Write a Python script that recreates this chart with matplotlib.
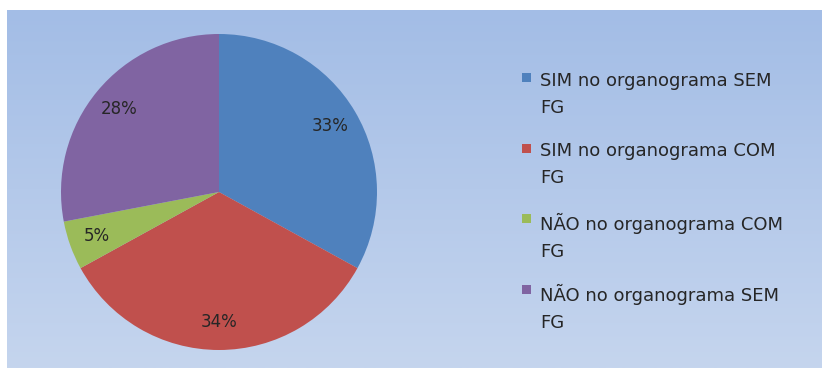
import numpy as np
import matplotlib.pyplot as plt
from matplotlib.colors import LinearSegmentedColormap
from matplotlib.patches import Rectangle

# Distribution of answers
labels = ['SIM no organograma SEM\nFG', 'SIM no organograma COM\nFG',
          'NÃO no organograma COM\nFG', 'NÃO no organograma SEM\nFG']
values = [33, 34, 5, 28]
colors = ['#4F81BD', '#C0504D', '#9BBB59', '#8064A2']

plt.rcParams['font.family'] = ['DejaVu Sans']

W, H = 822, 368
fig = plt.figure(figsize=(W / 100, H / 100), dpi=100)
fig.patch.set_facecolor('white')

# Gradient background panel
bg = fig.add_axes([7 / W, 0, 1 - 7 / W, 1 - 10 / H])
grad = LinearSegmentedColormap.from_list('bg', ['#A3BDE6', '#C5D5EE'])
bg.imshow(np.linspace(0, 1, 256).reshape(-1, 1), aspect='auto', cmap=grad,
          extent=[0, 1, 0, 1], origin='upper')
bg.set_axis_off()

# Pie
cx, cy, r = 219, 192, 158
ax = fig.add_axes([(cx - r) / W, (H - cy - r) / H, 2 * r / W, 2 * r / H])
wedges, texts, autotexts = ax.pie(values, colors=colors, startangle=90, counterclock=False,
                                  autopct='%d%%', pctdistance=0.82,
                                  textprops={'fontsize': 12, 'color': '#262626'})
ax.set_aspect('auto')
ax.set_xlim(-1, 1)
ax.set_ylim(-1, 1)

# Legend: square marker next to the first line of each label
y0, step = 81, 70.7
for i, (lab, col) in enumerate(zip(labels, colors)):
    y = y0 + i * step
    fig.patches.append(Rectangle((522 / W, 1 - (y + 1) / H), 9 / W, 9 / H,
                                 transform=fig.transFigure, facecolor=col,
                                 edgecolor='none'))
    fig.text(540 / W, 1 - (y - 9.5) / H, lab, ha='left', va='top', fontsize=13,
             color='#262626', linespacing=1.65)

fig.savefig('out.png', dpi=100)
